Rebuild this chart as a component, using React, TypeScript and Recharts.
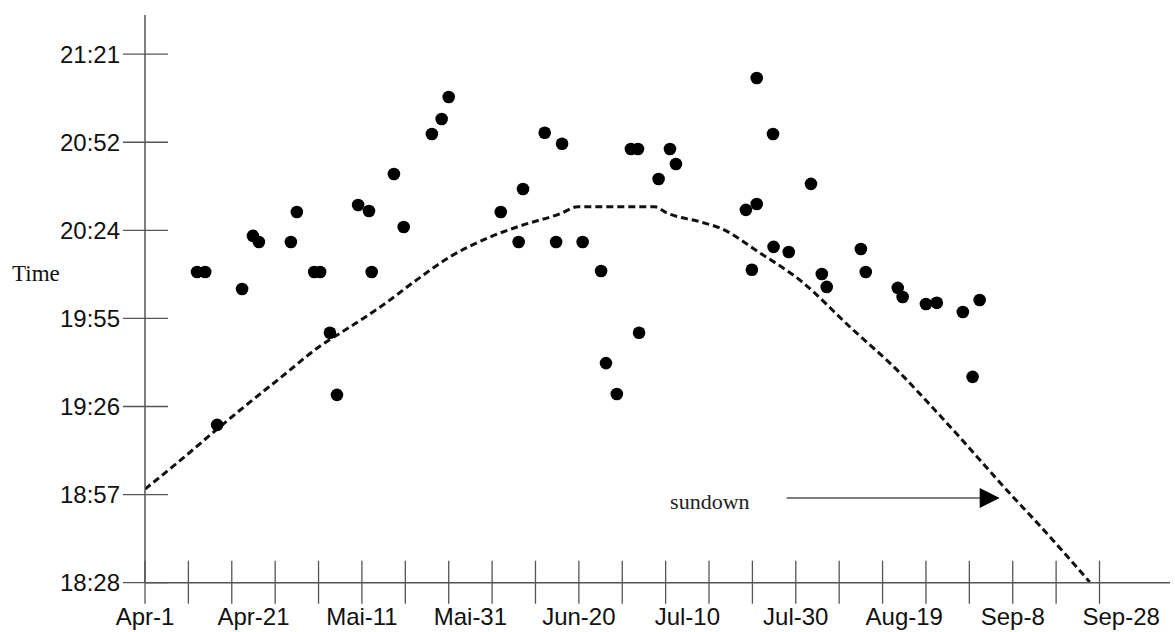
import React from 'react';
import {
  ComposedChart,
  Line,
  Scatter,
  XAxis,
  YAxis,
  ReferenceLine,
} from 'recharts';

// ---- data (x = days after Apr-1, y = minutes after midnight) ----
const sightingDays = [
  9.6, 11.1, 13.3, 17.9, 19.9, 21.0, 26.9, 28.0, 31.2, 32.3, 34.1, 35.4, 39.3, 41.3, 41.8,
  45.9, 47.7, 52.9, 54.7, 56.0, 65.6, 68.9, 69.7, 73.7, 76.9, 75.8, 80.7, 84.1, 85.0, 87.0,
  89.6, 90.9, 91.1, 94.7, 96.8, 97.9, 110.8, 111.9, 112.8, 112.8, 115.8, 115.9, 118.7, 122.8,
  124.8, 125.7, 132.0, 132.9, 138.8, 139.7, 144.0, 146.0, 150.8, 153.9, 152.6,
];
const sightingMinutes = [
  1210.4, 1210.4, 1160.4, 1204.8, 1222.2, 1220.2, 1220.2, 1230.0, 1210.4, 1210.4, 1190.5,
  1170.2, 1232.3, 1230.3, 1210.4, 1242.4, 1225.1, 1255.5, 1260.4, 1267.6, 1230.0, 1220.2,
  1237.5, 1255.9, 1252.3, 1220.2, 1220.2, 1210.7, 1180.6, 1170.5, 1250.6, 1250.6, 1190.5,
  1240.8, 1250.6, 1245.7, 1230.7, 1211.1, 1273.8, 1232.6, 1255.5, 1218.6, 1216.9, 1239.2,
  1209.7, 1205.5, 1217.9, 1210.4, 1205.2, 1202.2, 1199.9, 1200.3, 1197.3, 1201.2, 1176.1,
];

const sundownDays = [
  0, 6.5, 13.3, 17.1, 25.4, 32.3, 37.8, 43.9, 50.1, 56.2, 63.6, 69.1, 76.5, 79.8, 94.0,
  96.2, 102.3, 106.0, 113.4, 120.7, 130.0, 139.2, 145.3, 150.2, 159.4, 164.4, 174.2,
];
const sundownMinutes = [
  1139.4, 1148.8, 1159.0, 1164.6, 1176.4, 1186.2, 1192.4, 1199.6, 1207.8, 1215.3, 1221.8,
  1225.4, 1229.4, 1231.7, 1231.7, 1229.7, 1226.8, 1224.8, 1216.6, 1207.8, 1192.4, 1177.4,
  1165.9, 1156.4, 1138.1, 1128.6, 1109.0,
];

// axis ticks
const yTickDayFractions = [0.77, 0.79, 0.81, 0.83, 0.85, 0.87, 0.89];
const xTickMarkDays = [
  0, 8, 16, 24, 32, 40, 48, 56, 64, 72, 80, 88, 96, 104, 112, 120, 128, 136, 144, 152, 160,
  168, 176,
];
const xLabelDays = [0, 20, 40, 60, 80, 100, 120, 140, 160, 180];
const xLabels = [
  'Apr-1', 'Apr-21', 'Mai-11', 'Mai-31', 'Jun-20', 'Jul-10', 'Jul-30', 'Aug-19', 'Sep-8', 'Sep-28',
];

// annotation
const arrowStartDay = 118.3;
const arrowEndDay = 157.6;
const arrowMinutes = 1136.5;

const sightings = sightingDays.map((d, i) => ({ day: d, min: sightingMinutes[i] }));
const sundown = sundownDays.map((d, i) => ({ day: d, min: sundownMinutes[i] }));
const yTicks = yTickDayFractions.map((f) => f * 1440);
const xTicks = Array.from(new Set([...xTickMarkDays, ...xLabelDays])).sort((a, b) => a - b);

const fmtTime = (m: number) => {
  const t = Math.floor(m + 1e-6);
  const h = Math.floor(t / 60);
  const mm = t % 60;
  return `${h}:${mm < 10 ? '0' : ''}${mm}`;
};

const SANS = '"Liberation Sans", Arial, sans-serif';
const SERIF = '"Liberation Serif", "Times New Roman", serif';

const YTick = (props: any) => {
  const { x, y, payload } = props;
  return (
    <g>
      <line x1={x - 22} x2={x + 23} y1={y} y2={y} stroke="#555" strokeWidth={1.3} />
      <text
        x={x - 25}
        y={y}
        dy="0.36em"
        textAnchor="end"
        fontFamily={SANS}
        fontSize={24}
        fill="#111"
      >
        {fmtTime(payload.value)}
      </text>
    </g>
  );
};

const XTick = (props: any) => {
  const { x, y, payload } = props;
  const v = payload.value;
  const hasMark = xTickMarkDays.includes(v);
  const li = xLabelDays.indexOf(v);
  return (
    <g>
      {hasMark && (
        <line x1={x} x2={x} y1={y - 22} y2={y + 21} stroke="#555" strokeWidth={1.3} />
      )}
      {li >= 0 && (
        <text x={x} y={y + 42} textAnchor="middle" fontFamily={SANS} fontSize={24} fill="#111">
          {xLabels[li]}
        </text>
      )}
    </g>
  );
};

const Dot = (props: any) => {
  const { cx, cy } = props;
  if (cx == null || cy == null) return null;
  return <circle cx={cx} cy={cy} r={6.3} fill="#000" />;
};

const ArrowShape = (props: any) => {
  const { x1, y1, x2, y2 } = props;
  if (x1 == null) return null;
  return (
    <g>
      <line x1={x1} y1={y1} x2={x2 - 18} y2={y2} stroke="#555" strokeWidth={1.6} />
      <polygon points={`${x2},${y2} ${x2 - 20},${y2 - 10} ${x2 - 20},${y2 + 10}`} fill="#000" />
      <text
        x={x1 - 37}
        y={y1 + 11}
        textAnchor="end"
        fontFamily={SERIF}
        fontSize={22}
        fill="#222"
      >
        sundown
      </text>
    </g>
  );
};

const TimeLabel = () => (
  <text x={12} y={281} fontFamily={SERIF} fontSize={23} fill="#111">
    Time
  </text>
);

export default function App() {
  return (
    <div style={{ width: 1175, height: 632, background: '#fff', overflow: 'hidden' }}>
      <style>{`body{margin:0;overflow:hidden;background:#fff}`}</style>
      <ComposedChart
        width={1175}
        height={632}
        margin={{ top: 15, right: 5, bottom: 0, left: 0 }}
      >
        <XAxis
          type="number"
          dataKey="day"
          domain={[0, 189]}
          ticks={xTicks}
          interval={0}
          height={49.3}
          tickLine={false}
          tickSize={0}
          tickMargin={0}
          axisLine={{ stroke: '#555', strokeWidth: 1.5 }}
          tick={<XTick />}
          allowDataOverflow
        />
        <YAxis
          type="number"
          dataKey="min"
          domain={[1108.8, 1294.4]}
          ticks={yTicks}
          interval={0}
          width={145}
          tickLine={false}
          tickSize={0}
          tickMargin={0}
          axisLine={{ stroke: '#555', strokeWidth: 1.5 }}
          tick={<YTick />}
          label={{ content: () => <TimeLabel /> }}
          allowDataOverflow
        />
        <Line
          data={sundown}
          dataKey="min"
          type="monotone"
          stroke="#111"
          strokeWidth={3}
          strokeDasharray="7 4"
          dot={false}
          activeDot={false}
          isAnimationActive={false}
        />
        <Scatter data={sightings} dataKey="min" shape={<Dot />} isAnimationActive={false} />
        <ReferenceLine
          segment={[
            { x: arrowStartDay, y: arrowMinutes },
            { x: arrowEndDay, y: arrowMinutes },
          ]}
          shape={<ArrowShape />}
        />
      </ComposedChart>
    </div>
  );
}
